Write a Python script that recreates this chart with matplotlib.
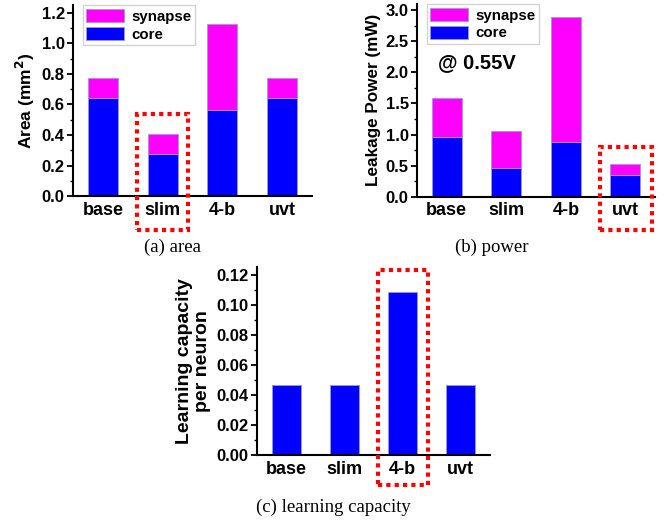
import numpy as np
import matplotlib
matplotlib.use('Agg')
import matplotlib.pyplot as plt
from matplotlib.patches import Rectangle
from matplotlib.ticker import MultipleLocator, FormatStrFormatter

categories = ['base', 'slim', '4-b', 'uvt']

area_core = [0.641, 0.278, 0.565, 0.641]
area_synapse = [0.131, 0.131, 0.561, 0.131]

power_core = [0.96, 0.466, 0.884, 0.349]
power_synapse = [0.63, 0.59, 2.006, 0.177]

capacity = [0.047, 0.047, 0.109, 0.047]

MAGENTA = '#ff00ff'
BLUE = '#0000ff'
EDGE = '#9a9ad0'

plt.rcParams['font.family'] = ['Liberation Sans', 'DejaVu Sans']
plt.rcParams['font.weight'] = 'bold'

fig = plt.figure(figsize=(6.67, 5.2), dpi=100)


def style_axes(ax, ymax, major, minor, fmt):
    ax.set_xlim(-0.5, 3.5)
    ax.set_ylim(0, ymax)
    ax.spines['top'].set_visible(False)
    ax.spines['right'].set_visible(False)
    ax.spines['left'].set_linewidth(1.5)
    ax.spines['bottom'].set_linewidth(1.5)
    ax.yaxis.set_major_locator(MultipleLocator(major))
    ax.yaxis.set_minor_locator(MultipleLocator(minor))
    ax.yaxis.set_major_formatter(FormatStrFormatter(fmt))
    ax.tick_params(axis='y', which='major', length=4, width=1.3, labelsize=12, pad=2)
    ax.tick_params(axis='y', which='minor', length=2.5, width=1.0)
    ax.tick_params(axis='x', length=0, labelsize=13, pad=4)
    ax.set_xticks(range(len(categories)))
    ax.set_xticklabels(categories, fontweight='bold')
    for lab in ax.get_yticklabels():
        lab.set_fontweight('bold')


def add_legend(ax):
    h, l = ax.get_legend_handles_labels()
    ax.legend(h[::-1], l[::-1], loc='upper left', bbox_to_anchor=(0.04, 1.0),
              frameon=True, fancybox=False, edgecolor='#c8c8c8', handlelength=2.5,
              handleheight=1.0, borderpad=0.25, labelspacing=0.2, handletextpad=0.5,
              borderaxespad=0.0, prop={'weight': 'bold', 'size': 10.8})


def red_box(ax, x0, x1, y0, y1):
    r = Rectangle((x0, y0), x1 - x0, y1 - y0, fill=False, edgecolor='#ff0000',
                  linewidth=3, linestyle=(0, (1, 1)), clip_on=False, zorder=5)
    ax.add_patch(r)


def caption(xp, yp, s):
    fig.text(xp / 667, 1 - yp / 520, s, ha='center', va='center',
             fontsize=13.5, family='Liberation Serif', fontweight='normal')


x = np.arange(len(categories))

# (a) area
ax1 = fig.add_axes([0.1094, 0.623, 0.3583, 0.367])
ax1.bar(x, area_core, width=0.5, color=BLUE, edgecolor=EDGE, linewidth=0.6, label='core')
ax1.bar(x, area_synapse, width=0.5, bottom=area_core, color=MAGENTA, edgecolor=EDGE,
        linewidth=0.6, label='synapse')
style_axes(ax1, 1.25, 0.2, 0.1, '%.1f')
ax1.set_ylabel('Area (mm$^\\mathbf{2}$)', fontsize=12.5, fontweight='bold', labelpad=3)
add_legend(ax1)
red_box(ax1, 0.57, 1.43, -0.22, 0.535)
caption(173, 247, '(a) area')

# (b) power
ax2 = fig.add_axes([0.6252, 0.6217, 0.357, 0.3706])
ax2.bar(x, power_core, width=0.5, color=BLUE, edgecolor=EDGE, linewidth=0.6, label='core')
ax2.bar(x, power_synapse, width=0.5, bottom=power_core, color=MAGENTA, edgecolor=EDGE,
        linewidth=0.6, label='synapse')
style_axes(ax2, 3.1, 0.5, 0.25, '%.1f')
ax2.set_ylabel('Leakage Power (mW)', fontsize=12.3, fontweight='bold', labelpad=3)
add_legend(ax2)
ax2.text(0.09, 0.695, '@ 0.55V', transform=ax2.transAxes, fontsize=14.5,
         fontweight='bold', ha='left', va='center')
red_box(ax2, 2.58, 3.44, -0.53, 0.80)
caption(492, 247, '(b) power')

# (c) learning capacity
ax3 = fig.add_axes([0.3853, 0.125, 0.3493, 0.362])
ax3.bar(x, capacity, width=0.5, color=BLUE, edgecolor=EDGE, linewidth=0.6)
style_axes(ax3, 0.1255, 0.02, 0.01, '%.2f')
ax3.set_ylabel('Learning capacity\nper neuron', fontsize=14, fontweight='bold',
               labelpad=4, linespacing=1.1)
red_box(ax3, 1.57, 2.43, -0.02, 0.1233)
caption(333, 507, '(c) learning capacity')

fig.savefig('out.png', dpi=100)
